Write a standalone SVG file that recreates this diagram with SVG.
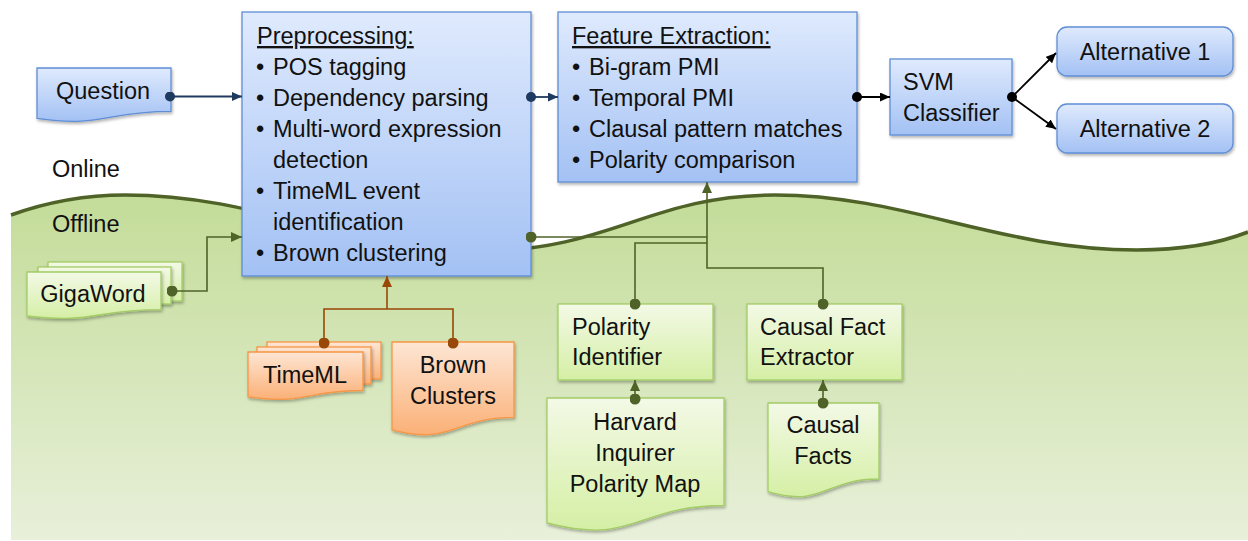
<svg xmlns="http://www.w3.org/2000/svg" width="1248" height="541" viewBox="0 0 1248 541">
<defs>
<linearGradient id="gBg" x1="0" y1="195" x2="0" y2="541" gradientUnits="userSpaceOnUse"><stop offset="0" stop-color="#c3dc98"/><stop offset="1" stop-color="#e8f0da"/></linearGradient>
<linearGradient id="gBlue" x1="0" y1="0" x2="0" y2="1"><stop offset="0" stop-color="#dfeafd"/><stop offset="1" stop-color="#a3c1f4"/></linearGradient>
<linearGradient id="gGreen" x1="0" y1="0" x2="0" y2="1"><stop offset="0" stop-color="#f3f9e6"/><stop offset="1" stop-color="#d5efa5"/></linearGradient>
<linearGradient id="gOrange" x1="0" y1="0" x2="0" y2="1"><stop offset="0" stop-color="#fde6d4"/><stop offset="1" stop-color="#fbb077"/></linearGradient>
<filter id="sh" x="-10%" y="-10%" width="130%" height="140%"><feDropShadow dx="1" dy="2" stdDeviation="1.5" flood-color="#000" flood-opacity="0.3"/></filter>
<marker id="arrN" viewBox="0 0 10 10" refX="10" refY="5" markerWidth="10" markerHeight="9" markerUnits="userSpaceOnUse" orient="auto" preserveAspectRatio="none"><path d="M0,0 L10,5 L0,10 Z" fill="#1f3a5f"/></marker>
<marker id="arrK" viewBox="0 0 10 10" refX="10" refY="5" markerWidth="10" markerHeight="9" markerUnits="userSpaceOnUse" orient="auto" preserveAspectRatio="none"><path d="M0,0 L10,5 L0,10 Z" fill="#000"/></marker>
<marker id="arrG" viewBox="0 0 10 10" refX="10" refY="5" markerWidth="11" markerHeight="10" markerUnits="userSpaceOnUse" orient="auto" preserveAspectRatio="none"><path d="M0,0 L10,5 L0,10 Z" fill="#4f6228"/></marker>
<marker id="arrO" viewBox="0 0 10 10" refX="10" refY="5" markerWidth="11" markerHeight="10" markerUnits="userSpaceOnUse" orient="auto" preserveAspectRatio="none"><path d="M0,0 L10,5 L0,10 Z" fill="#984807"/></marker>
<marker id="dotN" viewBox="0 0 10 10" refX="5" refY="5" markerWidth="10" markerHeight="10" markerUnits="userSpaceOnUse"><circle cx="5" cy="5" r="5" fill="#1f3a5f"/></marker>
<marker id="dotK" viewBox="0 0 10 10" refX="5" refY="5" markerWidth="10" markerHeight="10" markerUnits="userSpaceOnUse"><circle cx="5" cy="5" r="5" fill="#000"/></marker>
<marker id="dotG" viewBox="0 0 10 10" refX="5" refY="5" markerWidth="11" markerHeight="11" markerUnits="userSpaceOnUse"><circle cx="5" cy="5" r="5" fill="#4f6228"/></marker>
<marker id="dotO" viewBox="0 0 10 10" refX="5" refY="5" markerWidth="11" markerHeight="11" markerUnits="userSpaceOnUse"><circle cx="5" cy="5" r="5" fill="#984807"/></marker>
</defs>
<style>
text{font-family:"Liberation Sans",Arial,sans-serif;font-size:23.5px;fill:#111;}
.mid{text-anchor:middle;}
.ul{text-decoration:underline;}
.blue{fill:url(#gBlue);stroke:#5f8ed6;stroke-width:1.3;filter:url(#sh);}
.green{fill:url(#gGreen);stroke:#a3cc66;stroke-width:1.3;filter:url(#sh);}
.orange{fill:url(#gOrange);stroke:#f79646;stroke-width:1.3;filter:url(#sh);}
.cN{fill:none;stroke:#1f3a5f;stroke-width:1.8;}
.cK{fill:none;stroke:#000;stroke-width:1.8;}
.cG{fill:none;stroke:#4f6228;stroke-width:1.6;}
.cO{fill:none;stroke:#984807;stroke-width:1.6;}
</style>
<rect width="1248" height="541" fill="#fff"/>
<g id="background">
<path d="M11,215 C50,201 85,195 125,195 C260,195 350,251 480,251 C610,251 650,195 775,195 C905,195 1000,250 1137,250 C1180,250 1220,243 1248,232 L1248,540 L11,540 Z" fill="url(#gBg)"/>
<path d="M11,215 C50,201 85,195 125,195 C260,195 350,251 480,251 C610,251 650,195 775,195 C905,195 1000,250 1137,250 C1180,250 1220,243 1248,232" fill="none" stroke="#4f6228" stroke-width="3.5"/>
<text x="52" y="177">Online</text>
<text x="52" y="232">Offline</text>
</g>
<g id="question">
<path class="blue" d="M37,68 H171 V111.3 C104,111.3 104,127.8 37,118.4 Z"/>
<text class="mid" x="103" y="99">Question</text>
</g>
<g id="preprocessing">
<rect class="blue" x="242" y="12" width="289" height="264"/>
<text class="ul" x="257" y="44">Preprocessing:</text>
<text x="256" y="75">•</text><text x="273" y="75">POS tagging</text>
<text x="256" y="106">•</text><text x="273" y="106">Dependency parsing</text>
<text x="256" y="137">•</text><text x="273" y="137">Multi-word expression</text>
<text x="273" y="168">detection</text>
<text x="256" y="199">•</text><text x="273" y="199">TimeML event</text>
<text x="273" y="230">identification</text>
<text x="256" y="261">•</text><text x="273" y="261">Brown clustering</text>
</g>
<g id="feature-extraction">
<rect class="blue" x="558" y="12" width="299" height="170"/>
<text class="ul" x="572" y="44">Feature Extraction:</text>
<text x="572" y="75">•</text><text x="589" y="75">Bi-gram PMI</text>
<text x="572" y="106">•</text><text x="589" y="106">Temporal PMI</text>
<text x="572" y="137">•</text><text x="589" y="137">Clausal pattern matches</text>
<text x="572" y="168">•</text><text x="589" y="168">Polarity comparison</text>
</g>
<g id="svm">
<rect class="blue" x="890" y="59" width="122" height="76"/>
<text x="903" y="90">SVM</text>
<text x="903" y="121">Classifier</text>
</g>
<g id="alternative1">
<rect class="blue" x="1057" y="27" width="176" height="49" rx="10"/>
<text class="mid" x="1145" y="60">Alternative 1</text>
</g>
<g id="alternative2">
<rect class="blue" x="1057" y="104" width="176" height="49" rx="10"/>
<text class="mid" x="1145" y="137">Alternative 2</text>
</g>
<g id="gigaword">
<rect class="green" x="48" y="262" width="134" height="39"/>
<rect class="green" x="38" y="267" width="133" height="37"/>
<path class="green" d="M27,272 H161 V309.7 C94,309.7 94,324 27,316 Z"/>
<text class="mid" x="93" y="302">GigaWord</text>
</g>
<g id="timeml">
<rect class="orange" x="267" y="342" width="114" height="37"/>
<rect class="orange" x="257" y="347" width="114" height="37"/>
<path class="orange" d="M248,352 H363 V390.5 C305.5,390.5 305.5,405 248,396.8 Z"/>
<text class="mid" x="305" y="383">TimeML</text>
</g>
<g id="brown-clusters">
<path class="orange" d="M392,342 H514 V417.4 C453,417.4 453,446 392,429.8 Z"/>
<text class="mid" x="453" y="373">Brown</text>
<text class="mid" x="453" y="404">Clusters</text>
</g>
<g id="polarity-identifier">
<rect class="green" x="558" y="304" width="155" height="76"/>
<text x="572" y="335">Polarity</text>
<text x="572" y="365">Identifier</text>
</g>
<g id="causal-fact-extractor">
<rect class="green" x="747" y="304" width="155" height="76"/>
<text x="760" y="335">Causal Fact</text>
<text x="760" y="365">Extractor</text>
</g>
<g id="harvard">
<path class="green" d="M547,398 H724 V505.5 C635.5,505.5 635.5,546 547,523 Z"/>
<text class="mid" x="635" y="430">Harvard</text>
<text class="mid" x="635" y="461">Inquirer</text>
<text class="mid" x="635" y="492">Polarity Map</text>
</g>
<g id="causal-facts">
<path class="green" d="M768,403 H879 V479 C823.5,479 823.5,508 768,491.7 Z"/>
<text class="mid" x="823" y="433">Causal</text>
<text class="mid" x="823" y="464">Facts</text>
</g>
<g id="connectors">
<path class="cN" d="M170,96.5 H242" marker-start="url(#dotN)" marker-end="url(#arrN)"/>
<path class="cN" d="M531,97 H558" marker-start="url(#dotN)" marker-end="url(#arrN)"/>
<path class="cK" d="M857,97 H890" marker-start="url(#dotK)" marker-end="url(#arrK)"/>
<path class="cK" d="M1012,97 L1056,53" marker-start="url(#dotK)" marker-end="url(#arrK)"/>
<path class="cK" d="M1012,97 L1056,129" marker-end="url(#arrK)"/>
<path class="cG" d="M172,291 H207 V237 H242" marker-start="url(#dotG)" marker-end="url(#arrG)"/>
<path class="cG" d="M531,237 H707" marker-start="url(#dotG)"/>
<path class="cG" d="M635,304 V243 H707" marker-start="url(#dotG)"/>
<path class="cG" d="M823,304 V268 H707 V182" marker-start="url(#dotG)" marker-end="url(#arrG)"/>
<path class="cG" d="M635,399 V380" marker-start="url(#dotG)" marker-end="url(#arrG)"/>
<path class="cG" d="M823,403 V380" marker-start="url(#dotG)" marker-end="url(#arrG)"/>
<path class="cO" d="M324,343 V309 H453 V343" marker-start="url(#dotO)" marker-end="url(#dotO)"/>
<path class="cO" d="M387,309 V276" marker-end="url(#arrO)"/>
</g>
</svg>
